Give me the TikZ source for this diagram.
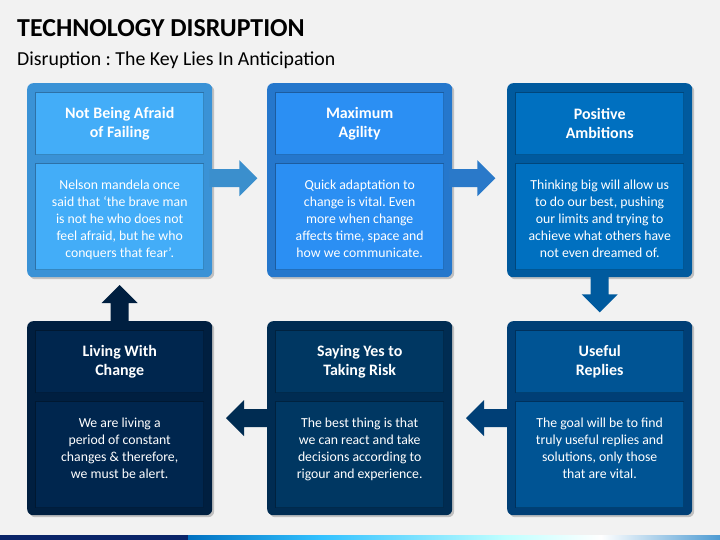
\documentclass[tikz,border=0pt]{standalone}
\usepackage{fontspec}
\setmainfont{Carlito}
\frenchspacing
\usetikzlibrary{calc,shadows}
\definecolor{bg}{HTML}{F2F2F2}
\definecolor{oA}{HTML}{3A92D6}\definecolor{iA}{HTML}{43ADF8}\definecolor{aA}{HTML}{3B8FCD}
\definecolor{oB}{HTML}{2577CC}\definecolor{iB}{HTML}{2B8FF3}\definecolor{aB}{HTML}{2A79C9}
\definecolor{oC}{HTML}{005A9E}\definecolor{iC}{HTML}{0070C0}\definecolor{aC}{HTML}{005A9E}
\definecolor{oD}{HTML}{003F76}\definecolor{iD}{HTML}{005494}\definecolor{aD}{HTML}{003F76}
\definecolor{oE}{HTML}{002C52}\definecolor{iE}{HTML}{003762}\definecolor{aE}{HTML}{002C52}
\definecolor{oF}{HTML}{001F40}\definecolor{iF}{HTML}{00264E}\definecolor{aF}{HTML}{001F40}
\definecolor{navy}{HTML}{0A2468}
\tikzset{
  cardbox/.style={rounded corners=6bp, minimum width=185bp, minimum height=194bp, inner sep=0, anchor=north west,
     drop shadow={shadow xshift=2bp, shadow yshift=-2bp, opacity=0.35, fill=black!60}},
  headbox/.style={minimum width=168bp, minimum height=62bp, inner sep=0, anchor=north,
     text=white, align=center, font=\bfseries\fontsize{16}{19}\selectfont, draw=black, draw opacity=0.22, line width=1.2bp},
  bodybox/.style={minimum width=168bp, minimum height=106bp, inner sep=0, anchor=north,
     draw=black, draw opacity=0.22, line width=1.2bp},
  bodytext/.style={text=white, align=center, inner sep=0, anchor=north, font=\fontsize{13.8}{17}\selectfont},
}
% #1 name, #2 x, #3 y, #4 outer, #5 inner, #6 heading, #7 body
\newcommand\mycard[7]{%
  \node[cardbox, fill=#4] (#1) at (#2,#3) {};
  \node[headbox, fill=#5] (#1h) at ($(#1.north)+(0,9)$) {#6};
  \node[bodybox, fill=#5] (#1b) at ($(#1.north)+(0,80)$) {};
  \node[bodytext] (#1t) at ($(#1b.north)+(0,17)$) {#7};
}
% #1 start, #2 rotation, #3 length, #4 colour
\newcommand\blockarrow[4]{%
  \begin{scope}[shift={(#1)}, rotate=#2]
    \fill[#4] (-3,-9) -- ({#3-18},-9) -- ({#3-18},-18) -- (#3,0) -- ({#3-18},18) -- ({#3-18},9) -- (-3,9) -- cycle;
  \end{scope}}
\begin{document}
\begin{tikzpicture}[x=1bp,y=-1bp]
\fill[bg] (0,0) rectangle (720,540);
\useasboundingbox (0,0) rectangle (720,540);
% bottom bar
\fill[navy] (0,535) rectangle (188,540);
\shade[left color=iC, right color=cyan!70!blue!80] (188,535) rectangle (321,540);
\shade[left color=cyan!70!blue!80, right color=cyan!25] (321,535) rectangle (505,540);
\shade[left color=cyan!25, right color=white] (505,535) rectangle (601,540);
\shade[left color=white, right color=iC!70] (601,535) rectangle (720,540);
% titles
\node[anchor=base west, inner sep=0, font=\bfseries\fontsize{26}{30}\selectfont] (title) at (17,37) {TECHNOLOGY DISRUPTION};
\node[anchor=base west, inner sep=0, font=\fontsize{19.9}{23}\selectfont] (sub) at (17,66) {Disruption : The Key Lies In Anticipation};
% cards
\mycard{c1}{27}{83}{oA}{iA}{Not Being Afraid\\of Failing}{Nelson mandela once\\said that ‘the brave man\\is not he who does not\\feel afraid, but he who\\conquers that fear’.}
\mycard{c2}{267}{83}{oB}{iB}{Maximum\\Agility}{Quick adaptation to\\change is vital. Even\\more when change\\affects time, space and\\how we communicate.}
\mycard{c3}{507}{83}{oC}{iC}{Positive\\Ambitions}{Thinking big will allow us\\to do our best, pushing\\our limits and trying to\\achieve what others have\\not even dreamed of.}
\mycard{c6}{507}{321}{oD}{iD}{Useful\\Replies}{The goal will be to find\\truly useful replies and\\solutions, only those\\that are vital.}
\mycard{c5}{267}{321}{oE}{iE}{Saying Yes to\\Taking Risk}{The best thing is that\\we can react and take\\decisions according to\\rigour and experience.}
\mycard{c4}{27}{321}{oF}{iF}{Living With\\Change}{We are living a\\period of constant\\changes \& therefore,\\we must be alert.}
% arrows
\coordinate (s1) at ($(c1.east)+(0,-2)$);
\coordinate (s2) at ($(c2.east)+(0,-2)$);
\blockarrow{s1}{0}{45}{aA}
\blockarrow{s2}{0}{43}{aB}
\blockarrow{c3.south}{-90}{35}{aC}
\blockarrow{c6.west}{180}{41}{aD}
\blockarrow{c5.west}{180}{41}{aE}
\blockarrow{c4.north}{90}{36}{aF}
\end{tikzpicture}
\end{document}
